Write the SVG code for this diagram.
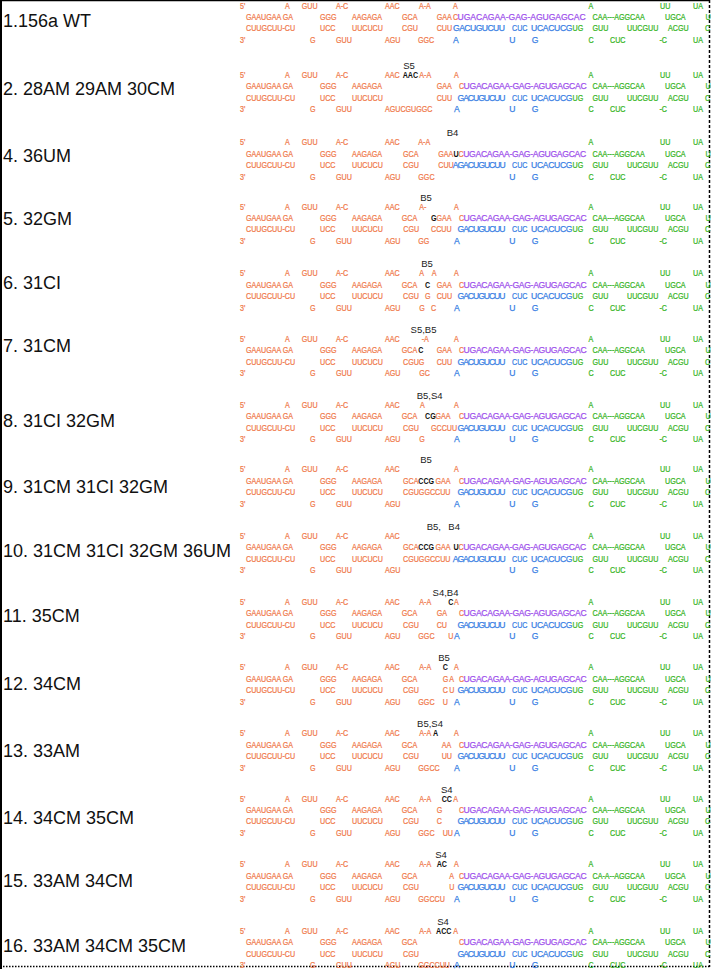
<svg xmlns="http://www.w3.org/2000/svg" width="711" height="969" viewBox="0 0 711 969">
<style>
text{font-family:"Liberation Sans",Arial,sans-serif}
.O text,.G text,.K text,.B text,.P text,.BN text{font-size:8.6px;stroke-width:0.25px}
.O text,.G text,.K text,.BN text{transform-box:fill-box;transform-origin:0 0;transform:scaleX(.83)}
.O text{fill:#F07A4C;stroke:#F07A4C}
.G text{fill:#38B526;stroke:#38B526}
.B text,.BN text{fill:#3A7FE4;stroke:#3A7FE4}
.P text{fill:#A052EC;stroke:#A052EC}
.K text{fill:#111;font-weight:bold;stroke:none}
.lab{font-size:18px;fill:#111}
.ann{font-size:9.5px;fill:#222;text-anchor:middle}
.ann2{font-size:9.5px;fill:#222}
</style>
<defs>
<g id="L" class="O">
<text x="240" y="3">5'</text><text x="285" y="3">A</text><text x="301.7" y="3">GUU</text><text x="336" y="3">A-C</text><text x="385" y="3">AAC</text>
<text x="246" y="14.3">GAAUGAA GA</text><text x="320" y="14.3">GGG</text><text x="352" y="14.3">AAGAGA</text>
<text x="246" y="25.7">CUUGCUU-CU</text><text x="320" y="25.7">UCC</text><text x="352" y="25.7">UUCUCU</text>
<text x="240" y="37.3">3'</text><text x="310" y="37.3">G</text><text x="336" y="37.3">GUU</text>
</g>
<g id="R">
<g class="BN"><text x="512" y="25.7">CUC</text></g>
<g class="B"><text x="531" y="25.7" textLength="41.5">UCACUCG</text><text x="509.3" y="37.3">U</text><text x="531.7" y="37.3">G</text></g>
<g class="G">
<text x="588.5" y="3">A</text><text x="660" y="3">UU</text><text x="693" y="3">UA</text>
<text x="665" y="14.3">UGCA</text><text x="705.5" y="14.3">U</text>
<text x="572.5" y="25.7">UG</text><text x="592.5" y="25.7">GUU</text><text x="627" y="25.7">UUCGUU</text><text x="668" y="25.7">ACGU</text><text x="705" y="25.7">C</text>
<text x="588.5" y="37.3">C</text><text x="610" y="37.3">CUC</text><text x="659.5" y="37.3">-C</text><text x="693" y="37.3">UA</text>
</g>
</g>
<g id="CAA" class="G"><text x="592.5" y="14.3">CAA---AGGCAA</text></g>
<g id="MP"><g class="O"><text x="459" y="14.3">C</text></g><g class="P"><text x="463.6" y="14.3" textLength="123">UGACAGAA-GAG-AGUGAGCAC</text></g></g>
<g id="MB" class="B"><text x="457.5" y="25.7" textLength="48">GACUGUCUU</text></g>
</defs>

<g id="border" fill="none" stroke="#000">
<line x1="1" y1="0" x2="1" y2="969" stroke-width="2"/>
<line x1="0" y1="0.5" x2="710" y2="0.5" stroke-width="1.5"/>
<line x1="709.5" y1="0" x2="709.5" y2="967" stroke-width="1.5" stroke-dasharray="3,2"/>
<line x1="0" y1="966.5" x2="710" y2="966.5" stroke-width="1.5" stroke-dasharray="1.5,1.5"/>
</g>

<g id="row1" transform="translate(0,5.5)">
<text class="lab" x="3" y="21.5">1.156a WT</text>
<use href="#L"/><use href="#R"/><use href="#CAA"/>
<g class="O"><text x="419" y="3">A-A</text><text x="453" y="3">A</text><text x="402" y="14.3">GCA</text><text x="436.7" y="14.3">GAA</text><text x="453" y="14.3">C</text><text x="402" y="25.7">CGU</text><text x="436.7" y="25.7">CUU</text><text x="385" y="37.3">AGU</text><text x="418" y="37.3">GGC</text></g>
<g class="P"><text x="457.6" y="14.3" textLength="128">UGACAGAA-GAG-AGUGAGCAC</text></g>
<g class="B"><text x="453" y="25.7" textLength="52">GACUGUCUU</text><text x="453" y="37.3">A</text></g>
</g>

<g id="row2" transform="translate(0,75)">
<text class="lab" x="3" y="20">2. 28AM 29AM 30CM</text>
<text class="ann" x="409" y="-6">S5</text>
<use href="#L"/><use href="#R"/><use href="#CAA"/><use href="#MP"/><use href="#MB"/>
<g class="K"><text x="402.7" y="3">AAC</text></g>
<g class="O"><text x="419.3" y="3">A-A</text><text x="454" y="3">A</text><text x="436.7" y="14.3">GAA</text><text x="436.7" y="25.7">CUU</text><text x="385" y="37.3">AGUCGUGGC</text></g>
<g class="B"><text x="454" y="37.3">A</text></g>
</g>

<g id="row4" transform="translate(0,142.3)">
<text class="lab" x="3" y="19.7">4. 36UM</text>
<text class="ann" x="452.5" y="-6">B4</text>
<use href="#L"/><use href="#R"/><use href="#CAA"/>
<g class="O"><text x="418.3" y="3">A-A</text><text x="403" y="14.3">GCA</text><text x="438.3" y="14.3">GAA</text><text x="458.5" y="14.3">C</text><text x="403" y="25.7">CGU</text><text x="438.3" y="25.7">CUU</text><text x="385" y="37.3">AGU</text><text x="418.3" y="37.3">GGC</text></g>
<g class="K"><text x="453.6" y="14.3">U</text></g>
<g class="P"><text x="463.2" y="14.3" textLength="123">UGACAGAA-GAG-AGUGAGCAC</text></g>
<g class="B"><text x="452.7" y="25.7" textLength="53">AGACUGUCUU</text></g>
</g>

<g id="row5" transform="translate(0,206.7)">
<text class="lab" x="3" y="18.3">5. 32GM</text>
<text class="ann" x="426" y="-6">B5</text>
<use href="#L"/><use href="#R"/><use href="#CAA"/><use href="#MP"/><use href="#MB"/>
<g class="O"><text x="419.3" y="3">A-</text><text x="454" y="3">A</text><text x="401.7" y="14.3">GCA</text><text x="436.5" y="14.3">GAA</text><text x="403.3" y="25.7">CGU</text><text x="431" y="25.7">CCUU</text><text x="385" y="37.3">AGU</text><text x="418.3" y="37.3">GG</text></g>
<g class="K"><text x="431" y="14.3">G</text></g>
<g class="B"><text x="454" y="37.3">A</text></g>
</g>

<g id="row6" transform="translate(0,273.3)">
<text class="lab" x="3" y="15.7">6. 31CI</text>
<text class="ann" x="427" y="-6">B5</text>
<use href="#L"/><use href="#R"/><use href="#CAA"/><use href="#MP"/><use href="#MB"/>
<g class="O"><text x="419.3" y="3">A</text><text x="431.7" y="3">A</text><text x="454" y="3">A</text><text x="401.7" y="14.3">GCA</text><text x="436.7" y="14.3">GAA</text><text x="403" y="25.7">CGU</text><text x="425" y="25.7">G</text><text x="436.7" y="25.7">CUU</text><text x="385" y="37.3">AGU</text><text x="419.3" y="37.3">G</text><text x="431" y="37.3">C</text></g>
<g class="K"><text x="425" y="14.3">C</text></g>
<g class="B"><text x="454" y="37.3">A</text></g>
</g>

<g id="row7" transform="translate(0,339)">
<text class="lab" x="3" y="13">7. 31CM</text>
<text class="ann" x="423.5" y="-6">S5,B5</text>
<use href="#L"/><use href="#R"/><use href="#CAA"/><use href="#MP"/><use href="#MB"/>
<g class="O"><text x="421.7" y="3">-A</text><text x="454" y="3">A</text><text x="401.7" y="14.3">GCA</text><text x="436.7" y="14.3">GAA</text><text x="403" y="25.7">CGUG</text><text x="436.7" y="25.7">CUU</text><text x="385" y="37.3">AGU</text><text x="419.3" y="37.3">GC</text></g>
<g class="K"><text x="418.3" y="14.3">C</text></g>
<g class="B"><text x="454" y="37.3">A</text></g>
</g>

<g id="row8" transform="translate(0,405)">
<text class="lab" x="3" y="22">8. 31CI 32GM</text>
<text class="ann" x="429.7" y="-6">B5,S4</text>
<use href="#L"/><use href="#R"/><use href="#CAA"/><use href="#MP"/><use href="#MB"/>
<g class="O"><text x="420" y="3">A</text><text x="454" y="3">A</text><text x="401.7" y="14.3">GCA</text><text x="435.5" y="14.3">GAA</text><text x="403" y="25.7">CGU</text><text x="431" y="25.7">GCCUU</text><text x="385" y="37.3">AGU</text><text x="419.3" y="37.3">G</text></g>
<g class="K"><text x="425" y="14.3">CG</text></g>
<g class="B"><text x="454" y="37.3">A</text></g>
</g>

<g id="row9" transform="translate(0,469.3)">
<text class="lab" x="3" y="23.7">9. 31CM 31CI 32GM</text>
<text class="ann" x="426" y="-6">B5</text>
<use href="#L"/><use href="#R"/><use href="#CAA"/><use href="#MP"/><use href="#MB"/>
<g class="O"><text x="454" y="3">A</text><text x="403" y="14.3">GCA</text><text x="435.5" y="14.3">GAA</text><text x="403" y="25.7">CGUGGCCUU</text><text x="385" y="37.3">AGU</text></g>
<g class="K"><text x="418.3" y="14.3">CCG</text></g>
<g class="B"><text x="454" y="37.3">A</text></g>
</g>

<g id="row10" transform="translate(0,536)">
<text class="lab" x="3" y="21">10. 31CM 31CI 32GM 36UM</text>
<text class="ann2" x="426.7" y="-6">B5,</text><text class="ann2" x="448.3" y="-6">B4</text>
<use href="#L"/><use href="#R"/><use href="#CAA"/>
<g class="O"><text x="403" y="14.3">GCA</text><text x="435.5" y="14.3">GAA</text><text x="458.5" y="14.3">C</text><text x="403" y="25.7">CGUGGCCUU</text><text x="385" y="37.3">AGU</text></g>
<g class="K"><text x="418.3" y="14.3">CCG</text><text x="453.6" y="14.3">U</text></g>
<g class="P"><text x="463.2" y="14.3" textLength="123">UGACAGAA-GAG-AGUGAGCAC</text></g>
<g class="B"><text x="452.7" y="25.7" textLength="53">AGACUGUCUU</text></g>
</g>

<g id="row11" transform="translate(0,602)">
<text class="lab" x="3" y="20">11. 35CM</text>
<text class="ann" x="445.5" y="-6">S4,B4</text>
<use href="#L"/><use href="#R"/><use href="#CAA"/><use href="#MP"/><use href="#MB"/>
<g class="O"><text x="419.3" y="3">A-A</text><text x="454" y="3">A</text><text x="401.7" y="14.3">GCA</text><text x="436.7" y="14.3">GA</text><text x="403" y="25.7">CGU</text><text x="436.7" y="25.7">CU</text><text x="385" y="37.3">AGU</text><text x="418.3" y="37.3">GGC</text><text x="448.3" y="37.3">U</text></g>
<g class="K"><text x="448.3" y="3">C</text></g>
<g class="B"><text x="454" y="37.3">A</text></g>
</g>

<g id="row12" transform="translate(0,667.3)">
<text class="lab" x="3" y="22.7">12. 34CM</text>
<text class="ann" x="444" y="-6">B5</text>
<use href="#L"/><use href="#R"/><use href="#CAA"/><use href="#MP"/><use href="#MB"/>
<g class="O"><text x="419.3" y="3">A-A</text><text x="454" y="3">A</text><text x="401.7" y="14.3">GCA</text><text x="442.7" y="14.3">G</text><text x="449.3" y="14.3">A</text><text x="403" y="25.7">CGU</text><text x="442.7" y="25.7">C</text><text x="449.3" y="25.7">U</text><text x="385" y="37.3">AGU</text><text x="418.3" y="37.3">GGC</text><text x="442.7" y="37.3">U</text></g>
<g class="K"><text x="442.7" y="3">C</text></g>
<g class="B"><text x="454" y="37.3">A</text></g>
</g>

<g id="row13" transform="translate(0,733.3)">
<text class="lab" x="3" y="23.7">13. 33AM</text>
<text class="ann" x="430" y="-6">B5,S4</text>
<use href="#L"/><use href="#R"/><use href="#CAA"/><use href="#MP"/><use href="#MB"/>
<g class="O"><text x="419.3" y="3">A-A</text><text x="454" y="3">A</text><text x="401.7" y="14.3">GCA</text><text x="441.7" y="14.3">AA</text><text x="403" y="25.7">CGU</text><text x="441.7" y="25.7">UU</text><text x="385" y="37.3">AGU</text><text x="418.3" y="37.3">GGCC</text></g>
<g class="K"><text x="433" y="3">A</text></g>
<g class="B"><text x="454" y="37.3">A</text></g>
</g>

<g id="row14" transform="translate(0,798.7)">
<text class="lab" x="3" y="25.3">14. 34CM 35CM</text>
<text class="ann" x="446.7" y="-6">S4</text>
<use href="#L"/><use href="#R"/><use href="#CAA"/><use href="#MP"/><use href="#MB"/>
<g class="O"><text x="419.3" y="3">A-A</text><text x="453.3" y="3">A</text><text x="401.7" y="14.3">GCA</text><text x="436.7" y="14.3">G</text><text x="403" y="25.7">CGU</text><text x="436.7" y="25.7">C</text><text x="385" y="37.3">AGU</text><text x="418.3" y="37.3">GGC</text><text x="442.7" y="37.3">UU</text></g>
<g class="K"><text x="441.7" y="3">CC</text></g>
<g class="B"><text x="454" y="37.3">A</text></g>
</g>

<g id="row15" transform="translate(0,864.3)">
<text class="lab" x="3" y="22.7">15. 33AM 34CM</text>
<text class="ann" x="441" y="-6">S4</text>
<use href="#L"/><use href="#R"/><use href="#MP"/><use href="#MB"/>
<g class="G"><text x="592.5" y="14.3">CA-A--AGGCAA</text></g>
<g class="O"><text x="419.3" y="3">A-A</text><text x="454" y="3">A</text><text x="401.7" y="14.3">GCA</text><text x="449.3" y="14.3">A</text><text x="403" y="25.7">CGU</text><text x="449.3" y="25.7">U</text><text x="385" y="37.3">AGU</text><text x="418.3" y="37.3">GGCCU</text></g>
<g class="K"><text x="436.7" y="3">AC</text></g>
<g class="B"><text x="454" y="37.3">A</text></g>
</g>

<g id="row16" transform="translate(0,931)">
<text class="lab" x="3" y="21">16. 33AM 34CM 35CM</text>
<text class="ann" x="443" y="-6">S4</text>
<use href="#L"/><use href="#R"/><use href="#CAA"/><use href="#MP"/><use href="#MB"/>
<g class="O"><text x="419.3" y="3">A-A</text><text x="453.3" y="3">A</text><text x="401.7" y="14.3">GCA</text><text x="403" y="25.7">CGU</text><text x="385" y="37.3">AGU</text><text x="418.3" y="37.3">GGCCUU</text></g>
<g class="K"><text x="436" y="3">ACC</text></g>
<g class="B"><text x="454" y="37.3">A</text></g>
</g>

<g id="connectors"></g>
</svg>
